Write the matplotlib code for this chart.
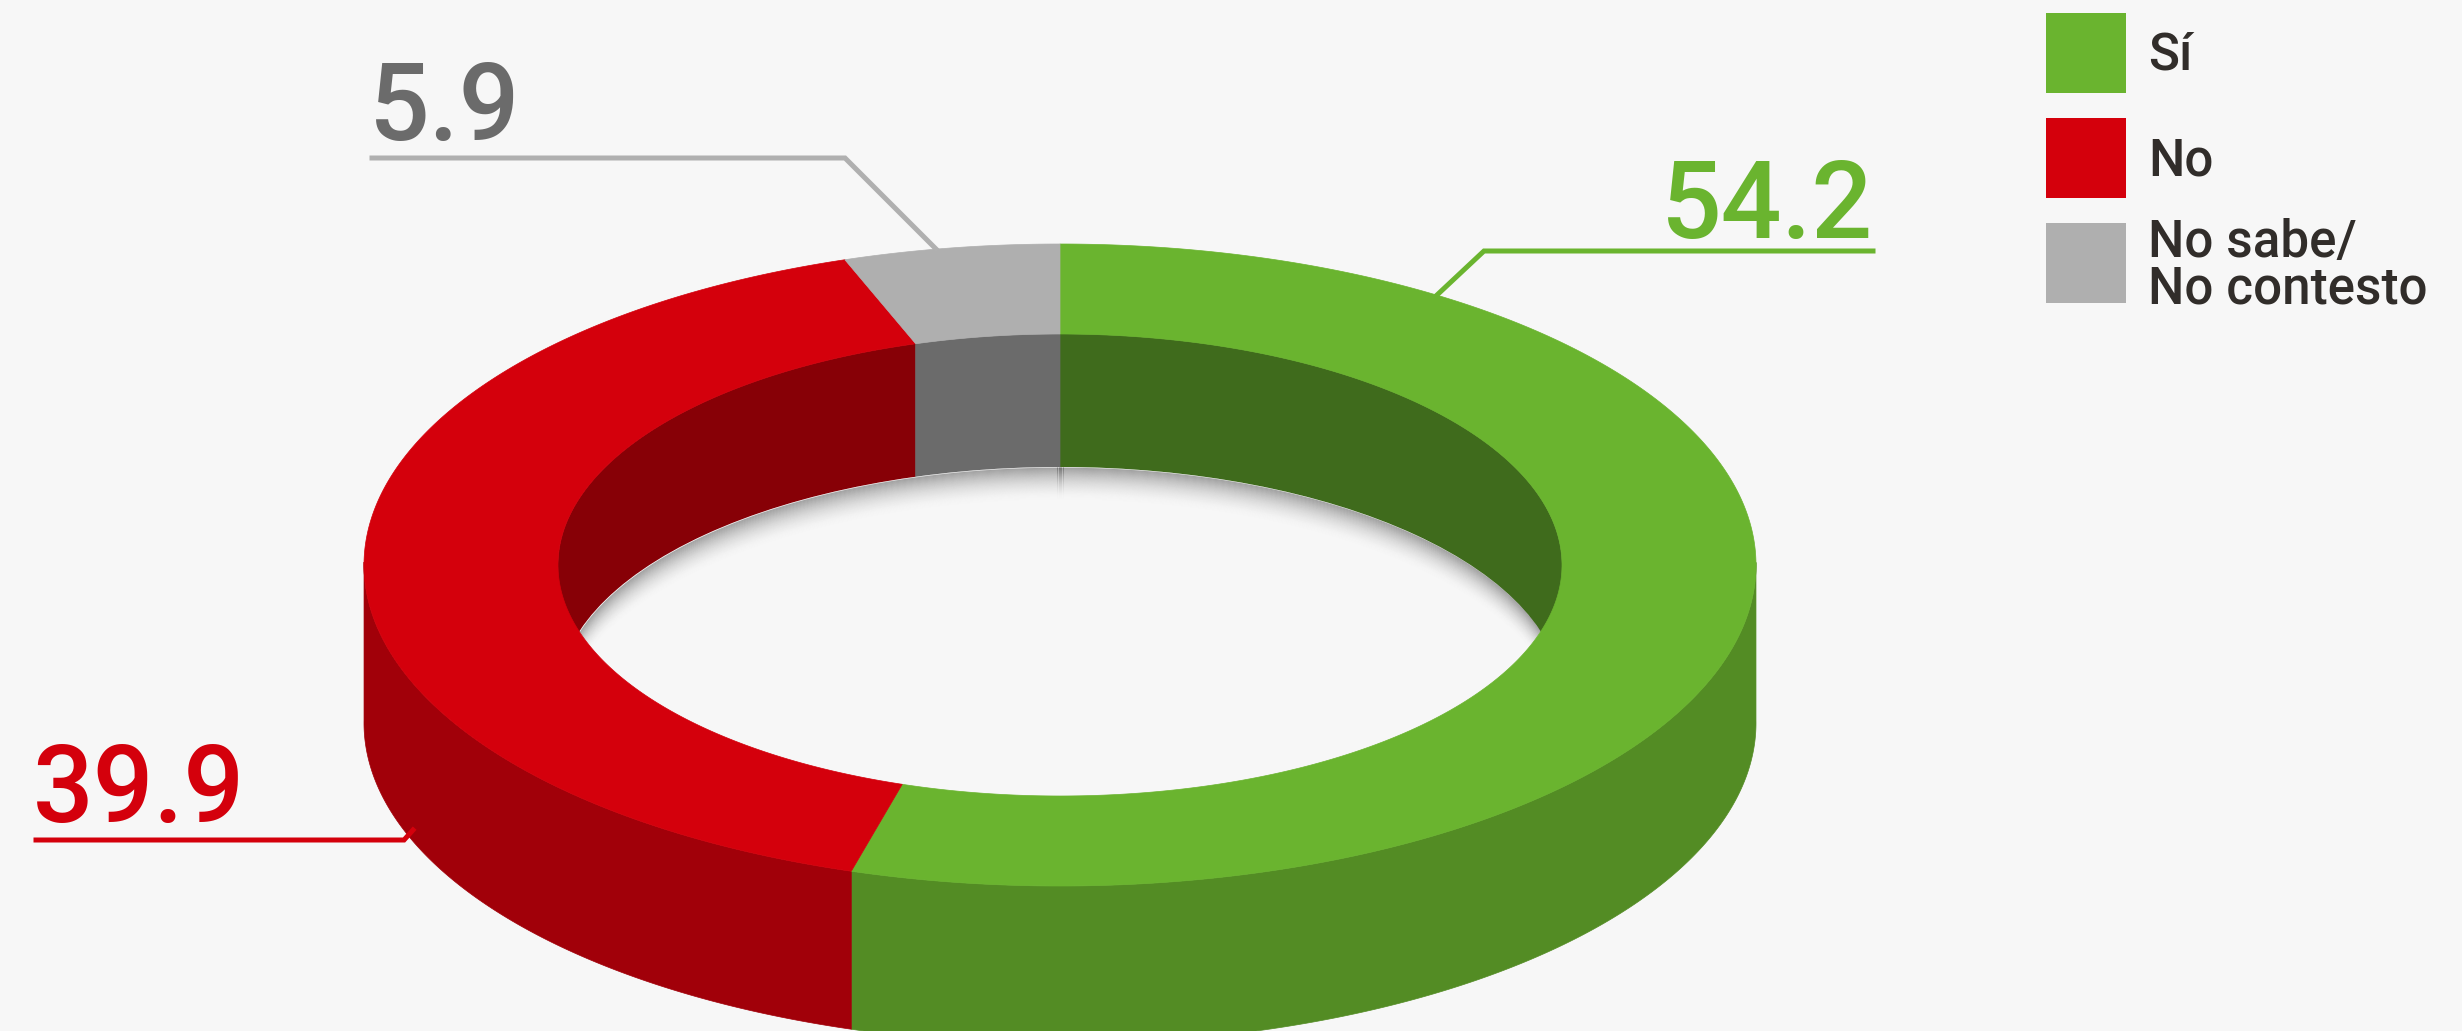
import numpy as np
import matplotlib
matplotlib.use('Agg')
import matplotlib.pyplot as plt
from matplotlib.patches import Ellipse, Polygon, Rectangle

# data, clockwise from the top
labels = ['Sí', 'No', 'No sabe/\nNo contesto']
values = [54.2, 39.9, 5.9]

top_colors = ['#6ab42f', '#d4000c', '#afafaf']
wall_colors = ['#538c24', '#a10009', '#8c8c8c']
inner_colors = ['#3f6b1c', '#870006', '#6b6b6b']
text_colors = ['#6ab42f', '#d4000c', '#6b6b6b']
line_colors = ['#6ab42f', '#d4000c', '#b0b0b0']

BG = '#f7f7f7'
W, H = 2462, 1031
cx, cy = 1060, 565
rx_out, ry_out = 696, 321
rx_in, ry_in = 502, 231
depth_out, depth_in = 158, 133
vp = 50  # rays start a bit above the centre -> fake perspective

# callout layout: text anchor and leader line (pixels)
callouts = [
    dict(xy=(1873, 238), ha='right', path=[(1437, 295), (1484, 251), (1873, 251)]),
    dict(xy=(33, 822), ha='left', path=[(413, 830), (404, 840), (36, 840)]),
    dict(xy=(369, 140), ha='left', path=[(936, 249), (845, 158), (372, 158)]),
]

plt.rcParams['font.family'] = ['Roboto', 'DejaVu Sans']


def ring_point(theta, rx, ry):
    # point where a ray from (cx, cy - vp) meets the ellipse (rx, ry)
    t = np.radians(theta)
    dx = rx_out * np.cos(t)
    dy = -ry_out * np.sin(t)
    a = (dx / rx) ** 2 + (dy / ry) ** 2
    b = -2 * vp * dy / ry ** 2
    c = (vp / ry) ** 2 - 1
    s = (-b + np.sqrt(b * b - 4 * a * c)) / (2 * a)
    return cx + s * dx, cy - vp + s * dy


fig = plt.figure(figsize=(W / 100, H / 100), dpi=100, facecolor=BG)
ax = fig.add_axes([0, 0, 1, 1])
ax.set_xlim(0, W)
ax.set_ylim(H, 0)
ax.axis('off')
ax.set_facecolor(BG)

total = sum(values)
frac = np.array(values) / total
starts = 90 - 360 * np.concatenate([[0], np.cumsum(frac)[:-1]])
ends = starts - 360 * frac

for i in range(len(values)):
    th = np.linspace(starts[i], ends[i], 2000)
    xo, yo = ring_point(th, rx_out, ry_out)
    xi, yi = ring_point(th, rx_in, ry_in)

    # top face
    pts = np.vstack([np.column_stack([xo, yo]), np.column_stack([xi, yi])[::-1]])
    ax.add_patch(Polygon(pts, closed=True, fc=top_colors[i], ec=top_colors[i], lw=0.5, zorder=5))

    # outer wall (front half only)
    m = yo >= cy - 3
    if m.sum() > 1:
        xs, ys = xo[m], yo[m]
        pts = np.vstack([np.column_stack([xs, ys]), np.column_stack([xs, ys + depth_out])[::-1]])
        ax.add_patch(Polygon(pts, closed=True, fc=wall_colors[i], ec=wall_colors[i], lw=0.5, zorder=4))

    # inner wall (back half only)
    m = yi <= cy + 3
    if m.sum() > 1:
        xs, ys = xi[m], yi[m]
        pts = np.vstack([np.column_stack([xs, ys]), np.column_stack([xs, ys + depth_in])[::-1]])
        ax.add_patch(Polygon(pts, closed=True, fc=inner_colors[i], ec=inner_colors[i], lw=0.5, zorder=1))

# floor of the hole + soft shadow under the back wall
hole = Ellipse((cx, cy), 2 * rx_in, 2 * ry_in, transform=ax.transData)
floor = Ellipse((cx, cy + depth_in), 2 * rx_in, 2 * ry_in, fc=BG, ec='none', zorder=2)
ax.add_patch(floor)
floor.set_clip_path(hole)

xx = np.linspace(cx - rx_in, cx + rx_in, 1500)
yup = cy + depth_in - ry_in * np.sqrt(np.clip(1 - ((xx - cx) / rx_in) ** 2, 0, 1))
n = 34
for j in range(n):
    band = ax.fill_between(xx, yup + j, yup + j + 1.2, color='k', lw=0,
                           alpha=0.30 * (1 - j / n) ** 2, zorder=3)
    band.set_clip_path(hole)

# callouts
for i, c in enumerate(callouts):
    px, py = zip(*c['path'])
    ax.plot(px, py, color=line_colors[i], lw=3.6, solid_joinstyle='miter', zorder=6)
    ax.text(c['xy'][0], c['xy'][1], f'{values[i]:.1f}', color=text_colors[i],
            fontsize=77, fontweight='medium', ha=c['ha'], va='baseline', zorder=7)

# legend
sq_x, sq_size = 2046, 80
row_top = [13, 118, 223]
for i, lab in enumerate(labels):
    ax.add_patch(Rectangle((sq_x, row_top[i]), sq_size, sq_size, fc=top_colors[i], ec='none', zorder=6))
    lines = lab.split('\n')
    mid = row_top[i] + sq_size / 2
    for k, line in enumerate(lines):
        base = mid + 17 - (len(lines) - 1) * 47 / 2 + k * 47
        ax.text(2148, base, line, color='#312d2a', fontsize=36.8, fontweight='medium',
                ha='left', va='baseline', zorder=7)

fig.savefig('out.png', dpi=100, facecolor=BG)
